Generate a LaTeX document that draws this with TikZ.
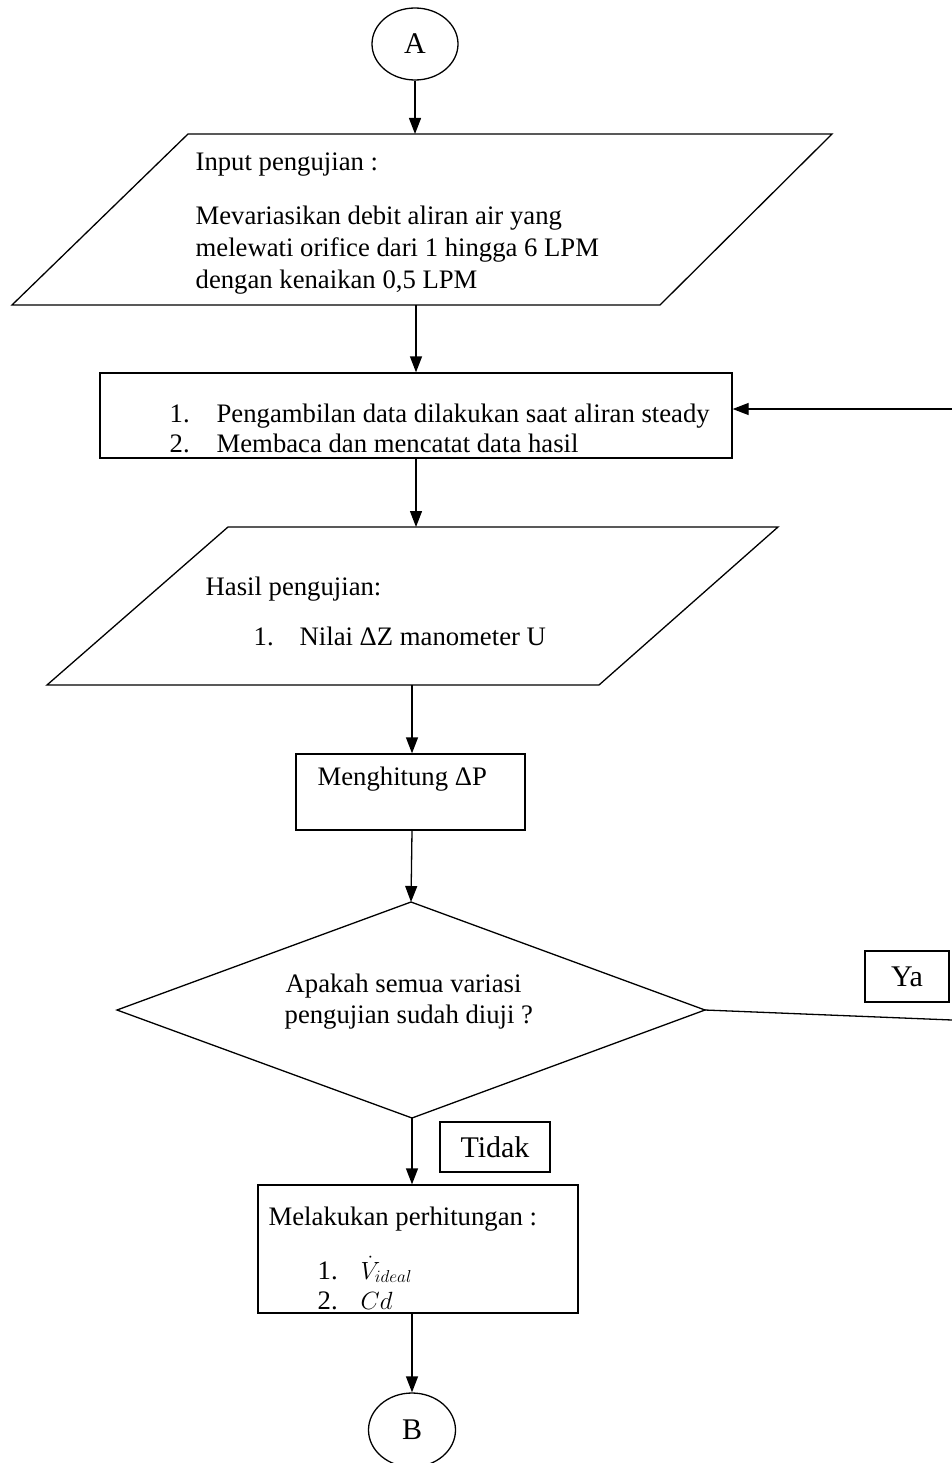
\documentclass[tikz,border=0pt]{standalone}
\usepackage{fontspec}
\setmainfont{Liberation Serif}
\usetikzlibrary{arrows.meta,shapes.geometric}
\begin{document}
\begin{tikzpicture}[x=1pt,y=-1pt,
  line width=1.3pt,
  arr/.style={-{Triangle[width=12pt,length=16pt]}},
  txt/.style={anchor=base west,inner sep=0pt,font=\fontsize{26.7}{31}\selectfont},
  boxnode/.style={draw,rectangle,inner sep=0pt},
  lbl/.style={draw,rectangle,inner sep=0pt,font=\fontsize{30}{34}\selectfont},
  conn/.style={draw,ellipse,inner sep=0pt,font=\fontsize{30}{34}\selectfont}]
\useasboundingbox (0,0) rectangle (952,1463);
% connector A
\node[conn,minimum width=86pt,minimum height=72pt] (A) at (415,44) {A};
% input parallelogram
\coordinate (p1tl) at (188,134);
\coordinate (p1tr) at (832,134);
\coordinate (p1br) at (660,305);
\coordinate (p1bl) at (12,305);
\draw (p1tl) -- (p1tr) -- (p1br) -- (p1bl) -- cycle;
\coordinate (p1top) at (415,134);
\coordinate (p1bot) at (416,305);
\node[txt] (t1a) at (195,171) {Input pengujian :};
\node[txt] (t1b) at (195,225) {Mevariasikan debit aliran air yang};
\node[txt] (t1c) at (195,257) {melewati orifice dari 1 hingga 6 LPM};
\node[txt] (t1d) at (195,288) {dengan kenaikan 0,5 LPM};
% process box
\node[boxnode,minimum width=632pt,minimum height=85pt] (box2) at (416,415.5) {};
\node[txt] (n2a) at (169,422) {1.};
\node[txt] (t2a) at (216,422) {Pengambilan data dilakukan saat aliran steady};
\node[txt] (n2b) at (169,452) {2.};
\node[txt] (t2b) at (216,452) {Membaca dan mencatat data hasil};
% output parallelogram
\coordinate (p2tl) at (228,527);
\coordinate (p2tr) at (778,527);
\coordinate (p2br) at (599,685);
\coordinate (p2bl) at (47,685);
\draw (p2tl) -- (p2tr) -- (p2br) -- (p2bl) -- cycle;
\coordinate (p2top) at (416,527);
\coordinate (p2bot) at (412,685);
\node[txt] (t3a) at (205,595) {Hasil pengujian:};
\node[txt] (n3a) at (253,645) {1.};
\node[txt] (t3b) at (299,645) {Nilai ΔZ manometer U};
% Menghitung box
\node[boxnode,minimum width=229pt,minimum height=76pt] (hit) at (410.5,792) {};
\node[txt] (t4) at (317,785) {Menghitung ΔP};
% decision diamond
\coordinate (dtop) at (411,902);
\coordinate (dright) at (705,1010);
\coordinate (dbot) at (412,1118);
\coordinate (dleft) at (117,1010);
\draw (dtop) -- (dright) -- (dbot) -- (dleft) -- cycle;
\node[txt] (t5a) at (285,992) {Apakah semua variasi};
\node[txt] (t5b) at (284,1023) {pengujian sudah diuji ?};
% labels
\node[lbl,minimum width=84pt,minimum height=51pt] (ya) at (907,976.5) {Ya};
\node[lbl,minimum width=110pt,minimum height=50pt] (tidak) at (495,1147) {Tidak};
% calculation box
\node[boxnode,minimum width=320pt,minimum height=128pt] (calc) at (418,1249) {};
\node[txt] (t6) at (268,1225) {Melakukan perhitungan :};
\node[txt] (n6a) at (317,1279) {1.};
\node[txt] (t6a) at (360,1279) {$\dot{V}_{ideal}$};
\node[txt] (n6b) at (317,1309) {2.};
\node[txt] (t6b) at (360,1309) {$Cd$};
% connector B
\node[conn,minimum width=87pt,minimum height=74pt] (B) at (412,1430) {B};
% feedback ends
\coordinate (rtop) at (952,409);
\coordinate (rbot) at (952,1020);
% connectors
\draw[arr] (A.south) -- (p1top);
\draw[arr] (p1bot) -- (box2.north);
\draw[arr] (box2.south) -- (p2top);
\draw[arr] (p2bot) -- (p2bot |- hit.north);
\draw[arr] (p2bot |- hit.south) -- (dtop);
\draw[arr] (dbot) -- (dbot |- calc.north);
\draw[arr] (dbot |- calc.south) -- (B.north);
\draw (dright) -- (rbot);
\draw[arr] (rtop) -- (rtop -| box2.east);
\end{tikzpicture}
\end{document}
